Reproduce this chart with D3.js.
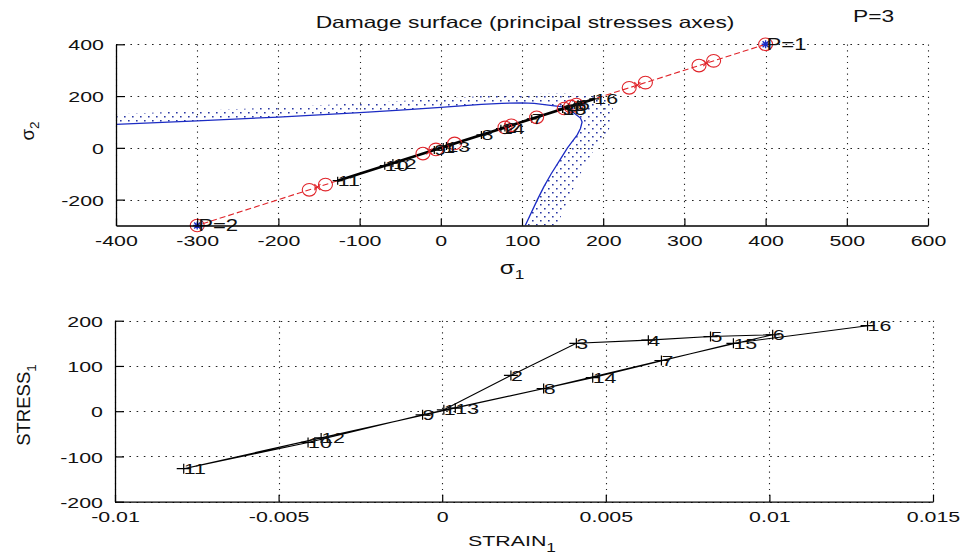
<!DOCTYPE html>
<html>
<head>
<meta charset="utf-8">
<script src="https://cdn.jsdelivr.net/npm/d3@7"></script>
<style>
  body { margin: 0; background: #fff; }
  svg { display: block; }
  text { font-family: "Liberation Sans", Arial, Helvetica, sans-serif; fill: #111; }
</style>
</head>
<body>
<svg id="chart" width="965" height="556"></svg>
<script>
// ---- data -------------------------------------------------------------
// load steps (label, strain, stress) for the uniaxial view
const stepLabels = ["1","2","3","4","5","6","7","8","9","10","11","12","13","14","15","16"];
const strain1 = [0.00005, 0.0021, 0.0041, 0.0063, 0.0082, 0.0101, 0.0067, 0.0031, -0.0006, -0.0041, -0.0079, -0.0037, 0.0004, 0.0046, 0.0089, 0.0130];
const stress1 = [3, 79, 150, 157, 165, 169, 112, 50, -8, -69, -127, -59, 7, 74, 150, 189];

// the same steps in principal stress space
const sigma1 = [3, 79, 150, 157, 165, 169, 112, 50, -8, -69, -127, -59, 7, 74, 150, 189];
const sigma2 = [3, 79, 150, 157, 165, 169, 112, 50, -8, -69, -127, -59, 7, 74, 150, 189];

// damage surface (solid) in principal stress space
const surfSigma1 = [-400, -300, -200, -150, -100, -50, 0, 25, 50, 75, 100, 115, 130, 145, 155, 160, 166, 172, 174, 172, 168, 162, 156, 146, 136, 127, 119, 104];
const surfSigma2 = [91, 104, 119, 127, 136, 146, 156, 162, 168, 172, 174, 172, 166, 160, 155, 145, 130, 115, 100, 75, 50, 25, 0, -50, -100, -150, -200, -300];

// outer limit of the dotted band of evolving surfaces
const bandSigma1 = [-400, -300, -200, -100, 0, 50, 100, 150, 185, 205, 210, 212, 210, 205, 190, 172, 157, 143];
const bandSigma2 = [130, 143, 157, 172, 190, 200, 207, 211, 206, 200, 185, 150, 100, 50, 0, -100, -200, -300];

// imposed load path between the two load points
const loadNames = ["P=1", "P=2"];
const loadSigma1 = [400, -300];
const loadSigma2 = [400, -300];
const circleSigma1 = [-162, -142, -22, -6, 17, 79, 87, 118, 152, 160, 167, 232, 252, 318, 336, 400, -300];
const circleSigma2 = [-162, -142, -22, -6, 17, 79, 87, 118, 152, 160, 167, 232, 252, 318, 336, 400, -300];
const crossSigma1 = [-152, -14, 83, 242, 327];
const crossSigma2 = [-152, -14, 83, 242, 327];

// ticks
const xTicksTop = [-400, -300, -200, -100, 0, 100, 200, 300, 400, 500, 600];
const yTicksTop = [-200, 0, 200, 400];
const xTicksBot = [-0.01, -0.005, 0, 0.005, 0.01, 0.015];
const xTickLabelsBot = ["-0.01", "-0.005", "0", "0.005", "0.01", "0.015"];
const yTicksBot = [-200, -100, 0, 100, 200];

// ---- layout -----------------------------------------------------------
const SX = 1.38;          // glyphs are drawn wider than tall
const FS = 15.5;          // base font size
const svg = d3.select("#chart");

const topBox = { l: 116, r: 928, t: 44.3, b: 225.5 };
const botBox = { l: 115, r: 933, t: 320.7, b: 501.7 };

const xTop = d3.scaleLinear().domain([-400, 600]).range([topBox.l, topBox.r]);
const yTop = d3.scaleLinear().domain([-300, 400]).range([topBox.b, topBox.t]);
const xBot = d3.scaleLinear().domain([-0.01, 0.015]).range([botBox.l, botBox.r]);
const yBot = d3.scaleLinear().domain([-200, 200]).range([botBox.b, botBox.t]);

const defs = svg.append("defs");
defs.append("clipPath").attr("id", "clipTop").append("rect")
  .attr("x", topBox.l).attr("y", topBox.t)
  .attr("width", topBox.r - topBox.l).attr("height", topBox.b - topBox.t);
const pat = defs.append("pattern").attr("id", "dots")
  .attr("patternUnits", "userSpaceOnUse").attr("width", 8).attr("height", 8);
pat.append("rect").attr("x", 0).attr("y", 0).attr("width", 1.6).attr("height", 1.5).attr("fill", "#2a38a4");
pat.append("rect").attr("x", 4).attr("y", 4).attr("width", 1.6).attr("height", 1.5).attr("fill", "#2a38a4");

// text drawn widened horizontally
function wideText(g, x, y, str, anchor, size) {
  return g.append("text")
    .attr("transform", `translate(${x},${y}) scale(${SX},1)`)
    .attr("text-anchor", anchor || "start")
    .attr("font-size", size || FS)
    .text(str);
}

function grid(g, x, y, xt, yt) {
  const [y0, y1] = y.range();
  const [x0, x1] = x.range();
  g.append("g").selectAll("line").data(xt).join("line")
    .attr("x1", d => Math.round(x(d)) + 0.5).attr("x2", d => Math.round(x(d)) + 0.5)
    .attr("y1", y0).attr("y2", y1)
    .attr("stroke", "#222").attr("stroke-width", 1.1).attr("stroke-dasharray", "1.2,4.6");
  g.append("g").selectAll("line").data(yt).join("line")
    .attr("y1", d => Math.round(y(d)) + 0.5).attr("y2", d => Math.round(y(d)) + 0.5)
    .attr("x1", x0).attr("x2", x1)
    .attr("stroke", "#222").attr("stroke-width", 1.1).attr("stroke-dasharray", "1.6,5.6");
}

function axes(g, x, y, xt, yt, xfmt) {
  const ax = g.append("g").attr("transform", `translate(0,${y.range()[0]})`)
    .call(d3.axisBottom(x).tickValues(xt).tickSize(-7).tickSizeOuter(0).tickFormat(xfmt));
  ax.selectAll(".tick text").attr("y", 0).attr("dy", null)
    .attr("transform", `translate(0,20) scale(${SX},1)`).attr("font-size", FS)
    .attr("font-family", null).attr("fill", "#111");
  const ay = g.append("g").attr("transform", `translate(${x.range()[0]},0)`)
    .call(d3.axisLeft(y).tickValues(yt).tickSize(-9).tickSizeOuter(0).tickFormat(d => String(d)));
  ay.selectAll(".tick text").attr("x", 0).attr("dy", "0.36em")
    .attr("transform", `translate(-12,0) scale(${SX},1)`).attr("font-size", FS)
    .attr("font-family", null).attr("fill", "#111");
  [ax, ay].forEach(a => {
    a.select(".domain").attr("stroke", "#000").attr("stroke-width", 1.3);
    a.selectAll(".tick line").attr("stroke", "#000").attr("stroke-width", 1.2);
  });
}

const plus = (s, h) => `M${-s},0H${s}M0,${-h}V${h}`;

// ---- top panel: principal stress space --------------------------------
const gT = svg.append("g");
grid(gT, xTop, yTop, xTicksTop, yTicksTop);

const clipped = gT.append("g").attr("clip-path", "url(#clipTop)");

// dotted band between the surface and its outer limit
const surfPts = surfSigma1.map((s, i) => [xTop(s), yTop(surfSigma2[i])]);
const bandPts = bandSigma1.map((s, i) => [xTop(s), yTop(bandSigma2[i])]);
clipped.append("path")
  .attr("d", "M" + bandPts.map(p => p.join(",")).join("L") + "L" + surfPts.slice().reverse().map(p => p.join(",")).join("L") + "Z")
  .attr("fill", "url(#dots)").attr("stroke", "none");

clipped.append("path")
  .attr("d", d3.line()(surfPts))
  .attr("fill", "none").attr("stroke", "#1c2cc4").attr("stroke-width", 1.3);

// imposed load path (dashed red)
gT.append("path")
  .attr("d", d3.line()(loadSigma1.map((s, i) => [xTop(s), yTop(loadSigma2[i])])))
  .attr("fill", "none").attr("stroke", "#e0242a").attr("stroke-width", 1.1).attr("stroke-dasharray", "6,3");

// followed path (thick black)
const pathPts = sigma1.map((s, i) => [xTop(s), yTop(sigma2[i])]);
gT.append("path").attr("d", d3.line()(pathPts))
  .attr("fill", "none").attr("stroke", "#000").attr("stroke-width", 2.6);
gT.append("g").selectAll("path").data(pathPts).join("path")
  .attr("transform", d => `translate(${d[0]},${d[1]})`)
  .attr("d", plus(5, 4)).attr("stroke", "#000").attr("stroke-width", 1.2);

// circles and crosses along the load path
gT.append("g").selectAll("ellipse").data(circleSigma1).join("ellipse")
  .attr("cx", (d) => xTop(d)).attr("cy", (d, i) => yTop(circleSigma2[i]))
  .attr("rx", 7).attr("ry", 6.3)
  .attr("fill", "none").attr("stroke", "#e0242a").attr("stroke-width", 1.1);
gT.append("g").selectAll("path").data(crossSigma1).join("path")
  .attr("transform", (d, i) => `translate(${xTop(d)},${yTop(crossSigma2[i])})`)
  .attr("d", "M-3,-3L3,3M-3,3L3,-3").attr("stroke", "#e0242a").attr("stroke-width", 1.1);

// load points
loadNames.forEach((n, i) => {
  const px = xTop(loadSigma1[i]), py = yTop(loadSigma2[i]);
  gT.append("path").attr("transform", `translate(${px},${py})`)
    .attr("d", "M-4,0H4M0,-4V4M-3,-3L3,3M-3,3L3,-3")
    .attr("stroke", "#1c2cc4").attr("stroke-width", 1.4);
  wideText(gT, px + 1, py + 5.5, n, "start", FS + 0.5);
});

// step labels
sigma1.forEach((s, i) => {
  wideText(gT, xTop(s), yTop(sigma2[i]) + 5.5, stepLabels[i], "start", FS);
});

axes(gT, xTop, yTop, xTicksTop, yTicksTop, d => String(d));

// title and annotation
wideText(svg, 525, 28, "Damage surface (principal stresses axes)", "middle", FS + 1);
wideText(svg, 853, 22, "P=3", "start", FS + 1);

// axis labels
const s1 = wideText(svg, 512, 274, "σ", "middle", FS + 2);
s1.append("tspan").attr("dy", 5).attr("font-size", FS - 3).text("1");
const s2 = svg.append("text").attr("transform", "translate(34,131) rotate(-90)")
  .attr("text-anchor", "middle").attr("font-size", FS + 3).text("σ");
s2.append("tspan").attr("dy", 5).attr("font-size", FS - 2).text("2");

// ---- bottom panel: stress-strain curve ----------------------------------
const gB = svg.append("g");
grid(gB, xBot, yBot, xTicksBot, yTicksBot);

const curvePts = strain1.map((e, i) => [xBot(e), yBot(stress1[i])]);
gB.append("path").attr("d", d3.line()(curvePts))
  .attr("fill", "none").attr("stroke", "#000").attr("stroke-width", 1.1);
gB.append("g").selectAll("path").data(curvePts).join("path")
  .attr("transform", d => `translate(${d[0]},${d[1]})`)
  .attr("d", plus(7, 5)).attr("stroke", "#000").attr("stroke-width", 1.2);
strain1.forEach((e, i) => {
  wideText(gB, xBot(e), yBot(stress1[i]) + 5.5, stepLabels[i], "start", FS);
});

axes(gB, xBot, yBot, xTicksBot, yTicksBot, (d, i) => xTickLabelsBot[i]);

const st = wideText(svg, 512, 546, "STRAIN", "middle", FS);
st.append("tspan").attr("dy", 6).attr("font-size", FS - 3).text("1");
const ss = svg.append("text").attr("transform", "translate(30,405) rotate(-90)")
  .attr("text-anchor", "middle").attr("font-size", FS + 3).text("STRESS");
ss.append("tspan").attr("dy", 6).attr("font-size", FS - 2).text("1");
</script>
</body>
</html>
